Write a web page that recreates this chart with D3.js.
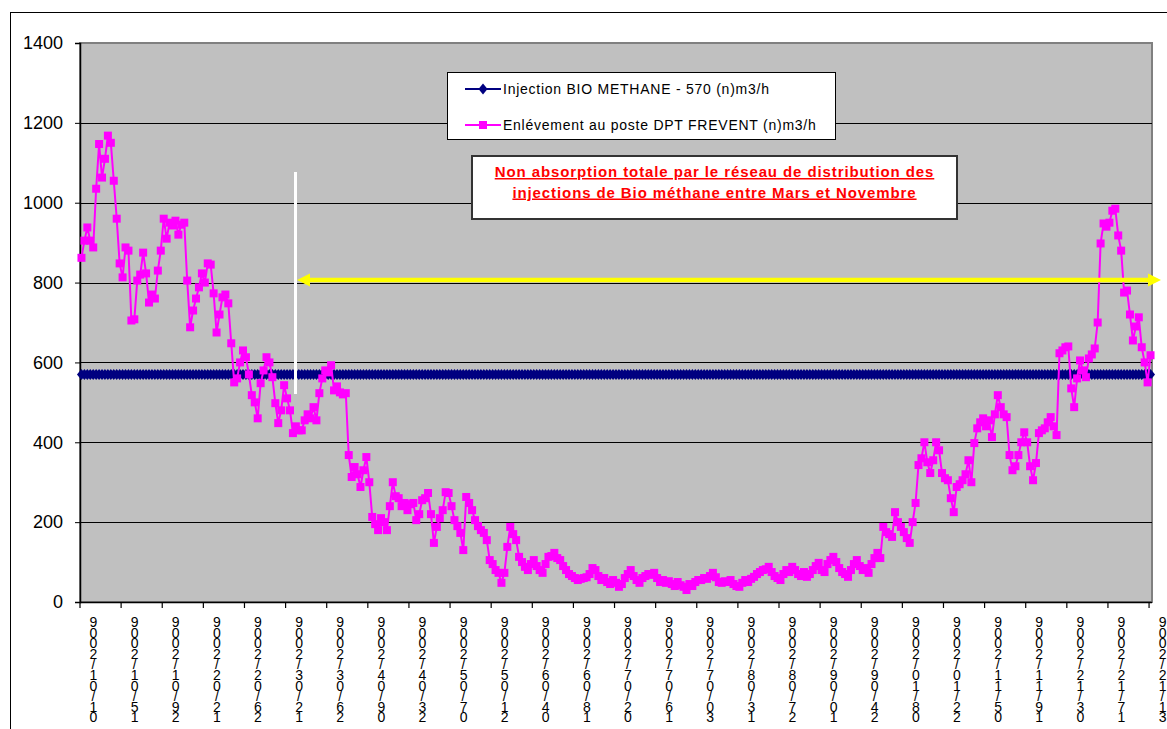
<!DOCTYPE html>
<html>
<head>
<meta charset="utf-8">
<script src="https://cdn.jsdelivr.net/npm/d3@7"></script>
<style>
  body { margin: 0; background: #fff; }
  svg { display: block; font-family: "Liberation Sans", Arial, sans-serif; }
</style>
</head>
<body>
<div id="chart"></div>
<script>
// daily values for 2009 (365 days)
const enlevement = [
  862, 905, 938, 905, 888, 1035, 1147, 1063, 1110, 1168,
  1150, 1055, 960, 848, 813, 888, 880, 705, 708, 805,
  820, 875, 823, 750, 770, 760, 830, 880, 960, 910,
  950, 943, 955, 920, 945, 950, 805, 688, 730, 760,
  788, 823, 800, 848, 845, 773, 675, 720, 763, 770,
  748, 648, 550, 560, 600, 630, 613, 570, 518, 500,
  460, 548, 580, 613, 600, 563, 498, 448, 480, 543,
  510, 480, 423, 440, 430, 430, 455, 470, 460, 488,
  455, 523, 560, 580, 575, 593, 530, 540, 525, 520,
  523, 368, 313, 338, 320, 288, 330, 363, 300, 213,
  195, 180, 210, 200, 180, 240, 300, 265, 260, 240,
  248, 230, 245, 248, 205, 220, 255, 260, 273, 220,
  148, 188, 210, 230, 275, 273, 240, 205, 190, 173,
  130, 263, 248, 230, 205, 190, 180, 173, 155, 105,
  95, 80, 73, 48, 73, 138, 188, 170, 155, 113,
  100, 88, 80, 95, 105, 90, 80, 73, 95, 113,
  115, 123, 110, 105, 90, 80, 70, 65, 60, 55,
  58, 60, 62, 70, 85, 80, 65, 55, 60, 50,
  45, 55, 48, 38, 45, 60, 70, 80, 65, 55,
  48, 60, 65, 70, 68, 73, 60, 50, 55, 48,
  52, 45, 40, 50, 42, 38, 30, 45, 40, 50,
  55, 55, 60, 58, 65, 73, 62, 50, 48, 52,
  50, 55, 45, 40, 38, 48, 55, 50, 58, 63,
  70, 75, 80, 82, 88, 75, 65, 60, 55, 70,
  80, 75, 88, 80, 70, 65, 75, 63, 70, 80,
  90, 98, 80, 75, 95, 105, 113, 100, 85, 75,
  70, 63, 80, 95, 105, 90, 80, 85, 73, 95,
  110, 123, 110, 188, 175, 170, 163, 225, 200, 188,
  175, 160, 148, 200, 248, 343, 360, 400, 350, 323,
  355, 400, 380, 323, 310, 305, 260, 225, 288, 295,
  305, 320, 355, 300, 398, 435, 450, 460, 440, 455,
  413, 470, 518, 488, 470, 463, 368, 330, 340, 368,
  400, 425, 400, 340, 305, 348, 423, 430, 435, 450,
  463, 440, 418, 623, 630, 638, 640, 535, 488, 560,
  605, 580, 563, 610, 620, 635, 700, 898, 948, 940,
  950, 980, 985, 918, 880, 775, 780, 720, 655, 690,
  713, 638, 600, 550, 618
];
const injectionLevel = 570;
const injection = enlevement.map(() => injectionLevel);

const tickLabels = [
  "01/01/2009", "15/01/2009", "29/01/2009", "12/02/2009", "26/02/2009", "12/03/2009",
  "26/03/2009", "09/04/2009", "23/04/2009", "07/05/2009", "21/05/2009", "04/06/2009",
  "18/06/2009", "02/07/2009", "16/07/2009", "30/07/2009", "13/08/2009", "27/08/2009",
  "10/09/2009", "24/09/2009", "08/10/2009", "22/10/2009", "05/11/2009", "19/11/2009",
  "03/12/2009", "17/12/2009", "31/12/2009"
];
const labelEvery = 14;
const yTicks = [0, 200, 400, 600, 800, 1000, 1200, 1400];

const legendLabels = ["Injection BIO METHANE - 570 (n)m3/h", "Enlévement au poste DPT FREVENT (n)m3/h"];
const noteLines = ["Non absorption totale par le réseau de distribution des",
                   "injections de Bio méthane entre Mars et Novembre"];

const width = 1167, height = 729;
const plot = { left: 80, right: 1152, top: 43, bottom: 602 };

const svg = d3.select("#chart").append("svg").attr("width", width).attr("height", height);

// outer frame
svg.append("rect").attr("x", 10.5).attr("y", 12.5).attr("width", 1200).attr("height", 800)
  .attr("fill", "#fff").attr("stroke", "#000").attr("stroke-width", 1);

const x = d3.scaleBand().domain(d3.range(enlevement.length)).range([plot.left, plot.right]);
const cx = i => x(i) + x.bandwidth() / 2;
const y = d3.scaleLinear().domain([0, 1400]).range([plot.bottom, plot.top]);

// plot background
svg.append("rect").attr("x", plot.left).attr("y", plot.top)
  .attr("width", plot.right - plot.left).attr("height", plot.bottom - plot.top)
  .attr("fill", "#c0c0c0").attr("stroke", "#808080").attr("stroke-width", 2);

// gridlines
svg.append("g").selectAll("line").data(yTicks.filter(v => v > 0 && v < 1400)).join("line")
  .attr("x1", plot.left).attr("x2", plot.right)
  .attr("y1", d => Math.round(y(d)) + 0.5).attr("y2", d => Math.round(y(d)) + 0.5)
  .attr("stroke", "#000").attr("stroke-width", 1);

// y axis
const yAxis = svg.append("g").attr("transform", `translate(${plot.left},0)`)
  .call(d3.axisLeft(y).tickValues(yTicks).tickSize(5).tickFormat(d3.format("d")));
yAxis.select(".domain").attr("stroke", "#000").attr("stroke-width", 1.5);
yAxis.selectAll(".tick line").attr("stroke", "#000");
yAxis.selectAll(".tick text").attr("x", -17).attr("font-size", 18)
  .attr("font-family", "Liberation Sans, Arial, sans-serif").attr("fill", "#000");

// x axis line and ticks
svg.append("line").attr("x1", plot.left).attr("x2", plot.right)
  .attr("y1", plot.bottom + 0.5).attr("y2", plot.bottom + 0.5).attr("stroke", "#000").attr("stroke-width", 1.5);
const tickIdx = d3.range(0, enlevement.length + 1, labelEvery);
svg.append("g").selectAll("line").data(tickIdx).join("line")
  .attr("x1", d => plot.left + d * x.step()).attr("x2", d => plot.left + d * x.step())
  .attr("y1", plot.bottom).attr("y2", plot.bottom + 6)
  .attr("stroke", "#000").attr("stroke-width", 1.2);

// x labels: characters stacked top to bottom, reversed order
const xl = svg.append("g").attr("font-size", 14).attr("fill", "#000").attr("text-anchor", "middle");
tickLabels.forEach((lab, k) => {
  const i = Math.min(k * labelEvery, enlevement.length - 1);
  const chars = lab.split("").reverse();
  const t = xl.append("text").attr("x", cx(i) + 12).attr("y", 627);
  chars.forEach((c, j) => {
    t.append("tspan").attr("x", cx(i) + 12).attr("dy", j === 0 ? 0 : 10.6).text(c);
  });
});

// injection series (navy, diamonds)
const navy = "#000080";
svg.append("path").datum(injection)
  .attr("d", d3.line().x((d, i) => cx(i)).y(d => y(d)))
  .attr("fill", "none").attr("stroke", navy).attr("stroke-width", 2);
const diamond = "M0,-5.5L4.5,0L0,5.5L-4.5,0Z";
svg.append("g").selectAll("path").data(injection).join("path")
  .attr("transform", (d, i) => `translate(${cx(i)},${y(d)})`)
  .attr("d", diamond).attr("fill", navy);

// enlevement series (magenta, squares)
const magenta = "#ff00ff";
svg.append("path").datum(enlevement)
  .attr("d", d3.line().x((d, i) => cx(i)).y(d => y(d)))
  .attr("fill", "none").attr("stroke", magenta).attr("stroke-width", 2);
svg.append("g").selectAll("rect").data(enlevement).join("rect")
  .attr("x", (d, i) => cx(i) - 4).attr("y", d => y(d) - 4)
  .attr("width", 8).attr("height", 8).attr("fill", magenta);

// white vertical marker
svg.append("line").attr("x1", 295.5).attr("x2", 295.5).attr("y1", 172).attr("y2", 394)
  .attr("stroke", "#fff").attr("stroke-width", 3);

// yellow double arrow
const ay = 280;
svg.append("line").attr("x1", 306).attr("x2", 1150).attr("y1", ay).attr("y2", ay)
  .attr("stroke", "#ffff00").attr("stroke-width", 4.5);
svg.append("path").attr("d", `M297,${ay}L310,${ay - 6.5}L310,${ay + 6.5}Z`).attr("fill", "#ffff00");
svg.append("path").attr("d", `M1161,${ay}L1148,${ay - 6.5}L1148,${ay + 6.5}Z`).attr("fill", "#ffff00");

// legend
const lg = svg.append("g");
lg.append("rect").attr("x", 447.5).attr("y", 72.5).attr("width", 388).attr("height", 67)
  .attr("fill", "#fff").attr("stroke", "#000").attr("stroke-width", 1);
const legendY = [89, 125];
lg.append("line").attr("x1", 465).attr("x2", 501).attr("y1", legendY[0]).attr("y2", legendY[0])
  .attr("stroke", navy).attr("stroke-width", 2);
lg.append("path").attr("transform", `translate(483,${legendY[0]})`).attr("d", diamond).attr("fill", navy);
lg.append("line").attr("x1", 465).attr("x2", 501).attr("y1", legendY[1]).attr("y2", legendY[1])
  .attr("stroke", magenta).attr("stroke-width", 2);
lg.append("rect").attr("x", 479).attr("y", legendY[1] - 4).attr("width", 8).attr("height", 8).attr("fill", magenta);
legendLabels.forEach((t, k) => {
  lg.append("text").attr("x", 503).attr("y", legendY[k] + 5).attr("font-size", 14)
    .attr("letter-spacing", 0.75).attr("fill", "#000").text(t);
});

// annotation box
const nb = svg.append("g");
nb.append("rect").attr("x", 472).attr("y", 156).attr("width", 485).attr("height", 63)
  .attr("fill", "#fff").attr("stroke", "#333").attr("stroke-width", 2);
noteLines.forEach((t, k) => {
  nb.append("text").attr("x", 714.5).attr("y", 177 + k * 20.5).attr("text-anchor", "middle")
    .attr("font-size", 15).attr("font-weight", "bold").attr("letter-spacing", 0.9)
    .attr("fill", "#ff0000").attr("text-decoration", "underline").text(t);
});
</script>
</body>
</html>
